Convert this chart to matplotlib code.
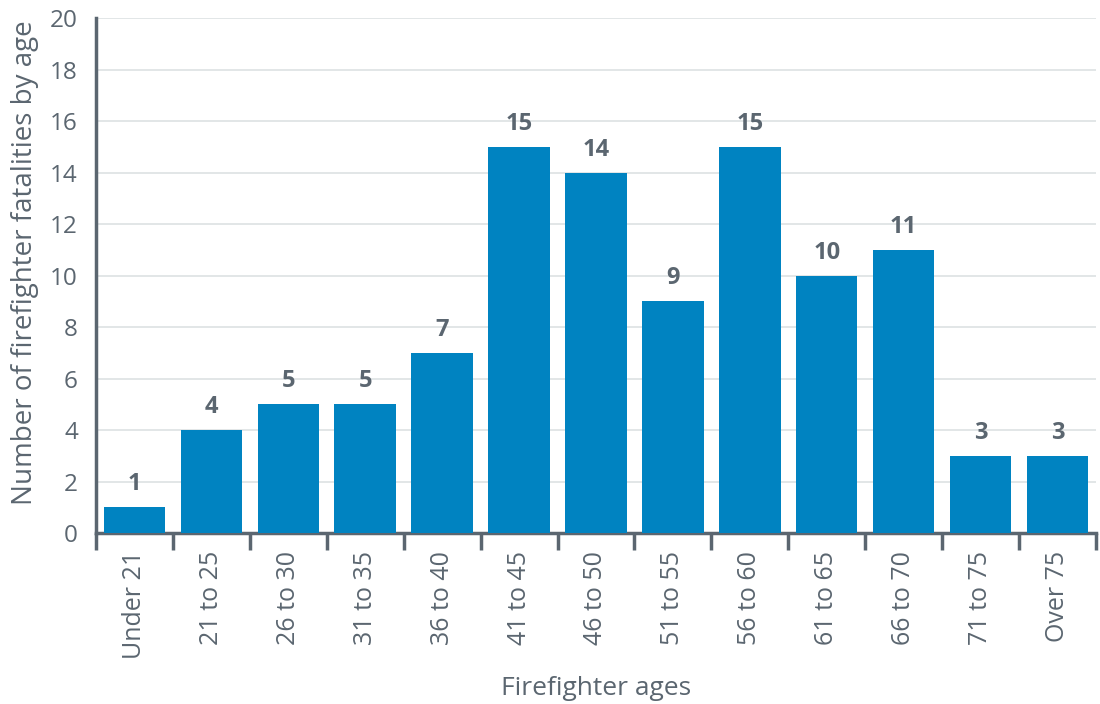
import matplotlib
matplotlib.use("Agg")
import matplotlib.pyplot as plt
import numpy as np

plt.rcParams['font.family'] = ['Open Sans', 'DejaVu Sans']

# Data
age_groups = ['Under 21', '21 to 25', '26 to 30', '31 to 35', '36 to 40', '41 to 45',
              '46 to 50', '51 to 55', '56 to 60', '61 to 65', '66 to 70', '71 to 75', 'Over 75']
fatalities = [1, 4, 5, 5, 7, 15, 14, 9, 15, 10, 11, 3, 3]

bar_color = '#0083C1'
text_color = '#5B6670'
grid_color = '#DDE1E3'

fig = plt.figure(figsize=(11, 7.04), dpi=100)
ax = fig.add_axes([0.0873, 0.2429, 0.909, 0.7315])

x = np.arange(len(age_groups))
ax.bar(x, fatalities, width=0.8, color=bar_color, zorder=3)

# value labels above bars
for xi, v in zip(x, fatalities):
    ax.text(xi, v + 0.42, str(v), ha='center', va='bottom', fontsize=17,
            fontweight='bold', color=text_color)

ax.set_xlim(-0.5, len(age_groups) - 0.5)
ax.set_ylim(0, 20)
ax.set_yticks(range(0, 21, 2))
ax.yaxis.grid(True, color=grid_color, linewidth=1.2, zorder=0)
ax.tick_params(axis='y', length=0, labelsize=17.5, labelcolor=text_color, pad=13)

# category boundary ticks on x axis
ax.set_xticks(np.arange(-0.5, len(age_groups), 1.0))
ax.set_xticklabels([])
ax.set_xticks(x, minor=True)
ax.set_xticklabels(age_groups, minor=True, rotation=90, fontsize=18, color=text_color)
ax.tick_params(axis='x', which='major', length=12, width=2.5, color=text_color, direction='out')
ax.tick_params(axis='x', which='minor', length=0, pad=13)

for side in ['top', 'right']:
    ax.spines[side].set_visible(False)
for side in ['left', 'bottom']:
    ax.spines[side].set_color(text_color)
    ax.spines[side].set_linewidth(2.5)

ax.set_ylabel('Number of firefighter fatalities by age', fontsize=20, color=text_color)
ax.yaxis.set_label_coords(-0.057, 0.525)
ax.set_xlabel('Firefighter ages', fontsize=19, color=text_color, labelpad=12)

fig.savefig('out.png', dpi=100)
